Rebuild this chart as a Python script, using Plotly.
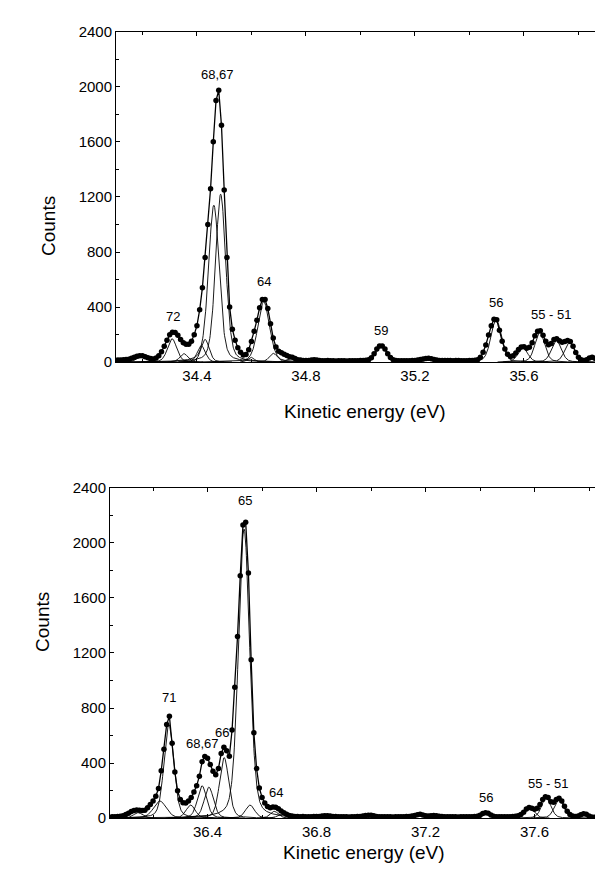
import numpy as np
import plotly.graph_objects as go

# ---------------- data ----------------
# Upper spectrum: counts sampled every 0.01 eV from 34.10 eV
TOP_E_START = 34.10
TOP_E_STEP = 0.01
top_counts = [
    15, 15, 16, 17, 19, 22, 28, 36, 43, 47, 46, 40, 32, 26, 24, 30, 46, 76, 115, 160,
    200, 218, 216, 195, 165, 142, 130, 130, 152, 200, 265, 380, 540, 760, 1000, 1260, 1600, 1900, 1975, 1720,
    1250, 760, 400, 240, 160, 105, 72, 52, 55, 90, 150, 225, 305, 395, 455, 455, 390, 280, 175, 110,
    80, 68, 58, 48, 40, 35, 26, 18, 15, 13, 12, 13, 16, 18, 16, 13, 11, 10, 12, 11,
    10, 9, 10, 11, 10, 9, 10, 11, 10, 11, 12, 12, 14, 18, 32, 62, 96, 118, 118, 96,
    62, 34, 18, 13, 11, 10, 10, 11, 11, 12, 13, 15, 19, 24, 27, 28, 25, 19, 15, 13,
    12, 12, 13, 12, 11, 12, 13, 11, 10, 11, 12, 13, 14, 18, 35, 72, 125, 198, 265, 312,
    308, 232, 152, 96, 58, 42, 46, 66, 92, 110, 113, 102, 108, 142, 192, 225, 228, 196, 152, 126,
    136, 164, 170, 156, 145, 150, 158, 150, 115, 70, 36, 18, 13, 18, 30, 36, 28, 16, 11, 9,
    8,
]

# Lower spectrum: counts sampled every 0.01 eV from 36.05 eV
BOT_E_START = 36.05
BOT_E_STEP = 0.01
bot_counts = [
    10, 11, 12, 14, 18, 26, 36, 48, 56, 60, 58, 55, 58, 75, 100, 125, 160, 215, 345, 500,
    680, 740, 545, 335, 200, 135, 112, 110, 125, 150, 190, 235, 305, 410, 448, 435, 390, 340, 315, 360,
    470, 515, 490, 450, 640, 950, 1320, 1760, 2130, 2150, 1780, 1150, 620, 360, 220, 150, 110, 85, 75, 82,
    80, 68, 52, 40, 28, 20, 15, 13, 12, 11, 12, 11, 10, 11, 12, 12, 13, 15, 17, 18,
    16, 13, 12, 11, 10, 11, 10, 9, 10, 11, 12, 13, 15, 19, 22, 21, 17, 13, 11, 10,
    10, 11, 10, 9, 10, 11, 10, 11, 12, 13, 15, 19, 25, 28, 24, 18, 15, 17, 20, 18,
    14, 12, 11, 10, 10, 11, 10, 9, 10, 10, 11, 10, 11, 12, 14, 22, 34, 40, 36, 24,
    14, 11, 10, 10, 11, 10, 11, 12, 14, 18, 26, 44, 66, 78, 72, 64, 72, 100, 135, 155,
    150, 120, 115, 136, 145, 125, 86, 50, 26, 16, 13, 16, 25, 32, 28, 16, 9, 7, 6, 6,
    5, 5,
]

# Fitted components (centre eV, height counts, FWHM eV)
top_centres = [34.196, 34.309, 34.352, 34.416, 34.430, 34.462, 34.487, 34.598, 34.645, 34.680,
               34.745, 35.076, 35.254, 35.498, 35.596, 35.658, 35.719, 35.768, 35.852]
top_heights = [40, 170, 62, 120, 165, 1140, 1220, 35, 440, 64,
               28, 115, 22, 310, 105, 215, 160, 150, 35]
top_widths = [0.04, 0.04, 0.035, 0.035, 0.035, 0.046, 0.044, 0.03, 0.05, 0.035,
              0.04, 0.045, 0.04, 0.045, 0.042, 0.042, 0.042, 0.042, 0.035]

bot_centres = [36.145, 36.225, 36.258, 36.338, 36.380, 36.405, 36.461, 36.534, 36.556, 36.645,
               36.672, 37.420, 37.582, 37.643, 37.690, 37.780]
bot_heights = [40, 125, 680, 95, 235, 225, 440, 2100, 95, 50,
               30, 35, 72, 148, 138, 28]
bot_widths = [0.04, 0.055, 0.042, 0.04, 0.04, 0.04, 0.04, 0.048, 0.04, 0.035,
              0.035, 0.035, 0.04, 0.04, 0.04, 0.035]

# Peak labels: (text, energy, counts)
top_labels = [("72", 34.312, 335), ("68,67", 34.477, 2092), ("64", 34.645, 589),
              ("59", 35.076, 228), ("56", 35.498, 430), ("55 - 51", 35.70, 347)]
bot_labels = [("71", 36.258, 876), ("68,67", 36.383, 544), ("66", 36.454, 625),
              ("65", 36.536, 2305), ("64", 36.652, 185), ("56", 37.423, 150),
              ("55 - 51", 37.65, 251)]

TOP_XRANGE = [34.103, 35.912]
BOT_XRANGE = [36.042, 37.866]
Y_RANGE = [0, 2400]

# ---------------- figure ----------------
W, H = 603, 878
FONT = "Liberation Sans, Arial, sans-serif"


def pseudo_voigt(x, c, h, w, eta=0.3):
    g = np.exp(-4 * np.log(2) * ((x - c) / w) ** 2)
    l = 1.0 / (1.0 + (2 * (x - c) / w) ** 2)
    return h * ((1 - eta) * g + eta * l)


fig = go.Figure()

panels = [
    (TOP_E_START, TOP_E_STEP, top_counts, top_centres, top_heights, top_widths, TOP_XRANGE, "x", "y"),
    (BOT_E_START, BOT_E_STEP, bot_counts, bot_centres, bot_heights, bot_widths, BOT_XRANGE, "x2", "y2"),
]

for start, step, counts, cs, hs, ws, xr, xa, ya in panels:
    energies = [round(start + i * step, 3) for i in range(len(counts))]
    grid = np.linspace(xr[0], xr[1], 1200)
    for c, h, w in zip(cs, hs, ws):
        comp = pseudo_voigt(grid, c, h, w)
        mask = comp > 1.5
        fig.add_trace(go.Scatter(x=grid[mask], y=comp[mask], mode="lines",
                                 line=dict(color="black", width=0.9),
                                 xaxis=xa, yaxis=ya, showlegend=False, hoverinfo="skip"))
    fig.add_trace(go.Scatter(x=energies, y=counts, mode="lines+markers",
                             line=dict(color="black", width=1.3),
                             marker=dict(color="black", size=5.5),
                             xaxis=xa, yaxis=ya, showlegend=False))

axis_common = dict(showline=True, linecolor="black", linewidth=1, mirror="ticks",
                   ticks="inside", ticklen=4, tickcolor="black", tickwidth=1,
                   showgrid=False, zeroline=False,
                   tickfont=dict(family=FONT, size=15, color="black"))

def px_x(p):
    return p / W

def px_y(p):
    return 1 - p / H

fig.update_layout(
    width=W, height=H, paper_bgcolor="white", plot_bgcolor="white",
    margin=dict(l=0, r=0, t=0, b=0),
    xaxis=dict(domain=[px_x(108), px_x(601)], range=TOP_XRANGE, anchor="y",
               tick0=34.4, dtick=0.4, tickformat=".1f",
               minor=dict(dtick=0.2, ticks="inside", ticklen=3, tickcolor="black"),
               **axis_common),
    yaxis=dict(domain=[px_y(352), px_y(15)], range=Y_RANGE, anchor="x",
               dtick=400, minor=dict(dtick=200, ticks="inside", ticklen=3, tickcolor="black"),
               **axis_common),
    xaxis2=dict(domain=[px_x(102), px_x(599)], range=BOT_XRANGE, anchor="y2",
                tick0=36.4, dtick=0.4, tickformat=".1f",
                minor=dict(dtick=0.2, ticks="inside", ticklen=3, tickcolor="black"),
                **axis_common),
    yaxis2=dict(domain=[px_y(817), px_y(480)], range=Y_RANGE, anchor="x2",
                dtick=400, minor=dict(dtick=200, ticks="inside", ticklen=3, tickcolor="black"),
                **axis_common),
)

annotations = []
for labels, xr, yr in ((top_labels, "x", "y"), (bot_labels, "x2", "y2")):
    for text, e, c in labels:
        annotations.append(dict(text=text, x=e, y=c, xref=xr, yref=yr, showarrow=False,
                                font=dict(family=FONT, size=13, color="black")))

title_font = dict(family=FONT, size=19, color="black")
annotations += [
    dict(text="Kinetic energy (eV)", x=px_x(357), y=px_y(402), xref="paper", yref="paper",
         showarrow=False, font=title_font),
    dict(text="Kinetic energy (eV)", x=px_x(356), y=px_y(865), xref="paper", yref="paper",
         showarrow=False, font=title_font),
    dict(text="Counts", x=px_x(28), y=px_y(181), xref="paper", yref="paper",
         showarrow=False, textangle=-90, font=title_font),
    dict(text="Counts", x=px_x(22), y=px_y(650), xref="paper", yref="paper",
         showarrow=False, textangle=-90, font=title_font),
]
fig.update_layout(annotations=annotations)

fig.write_html("out.html")
